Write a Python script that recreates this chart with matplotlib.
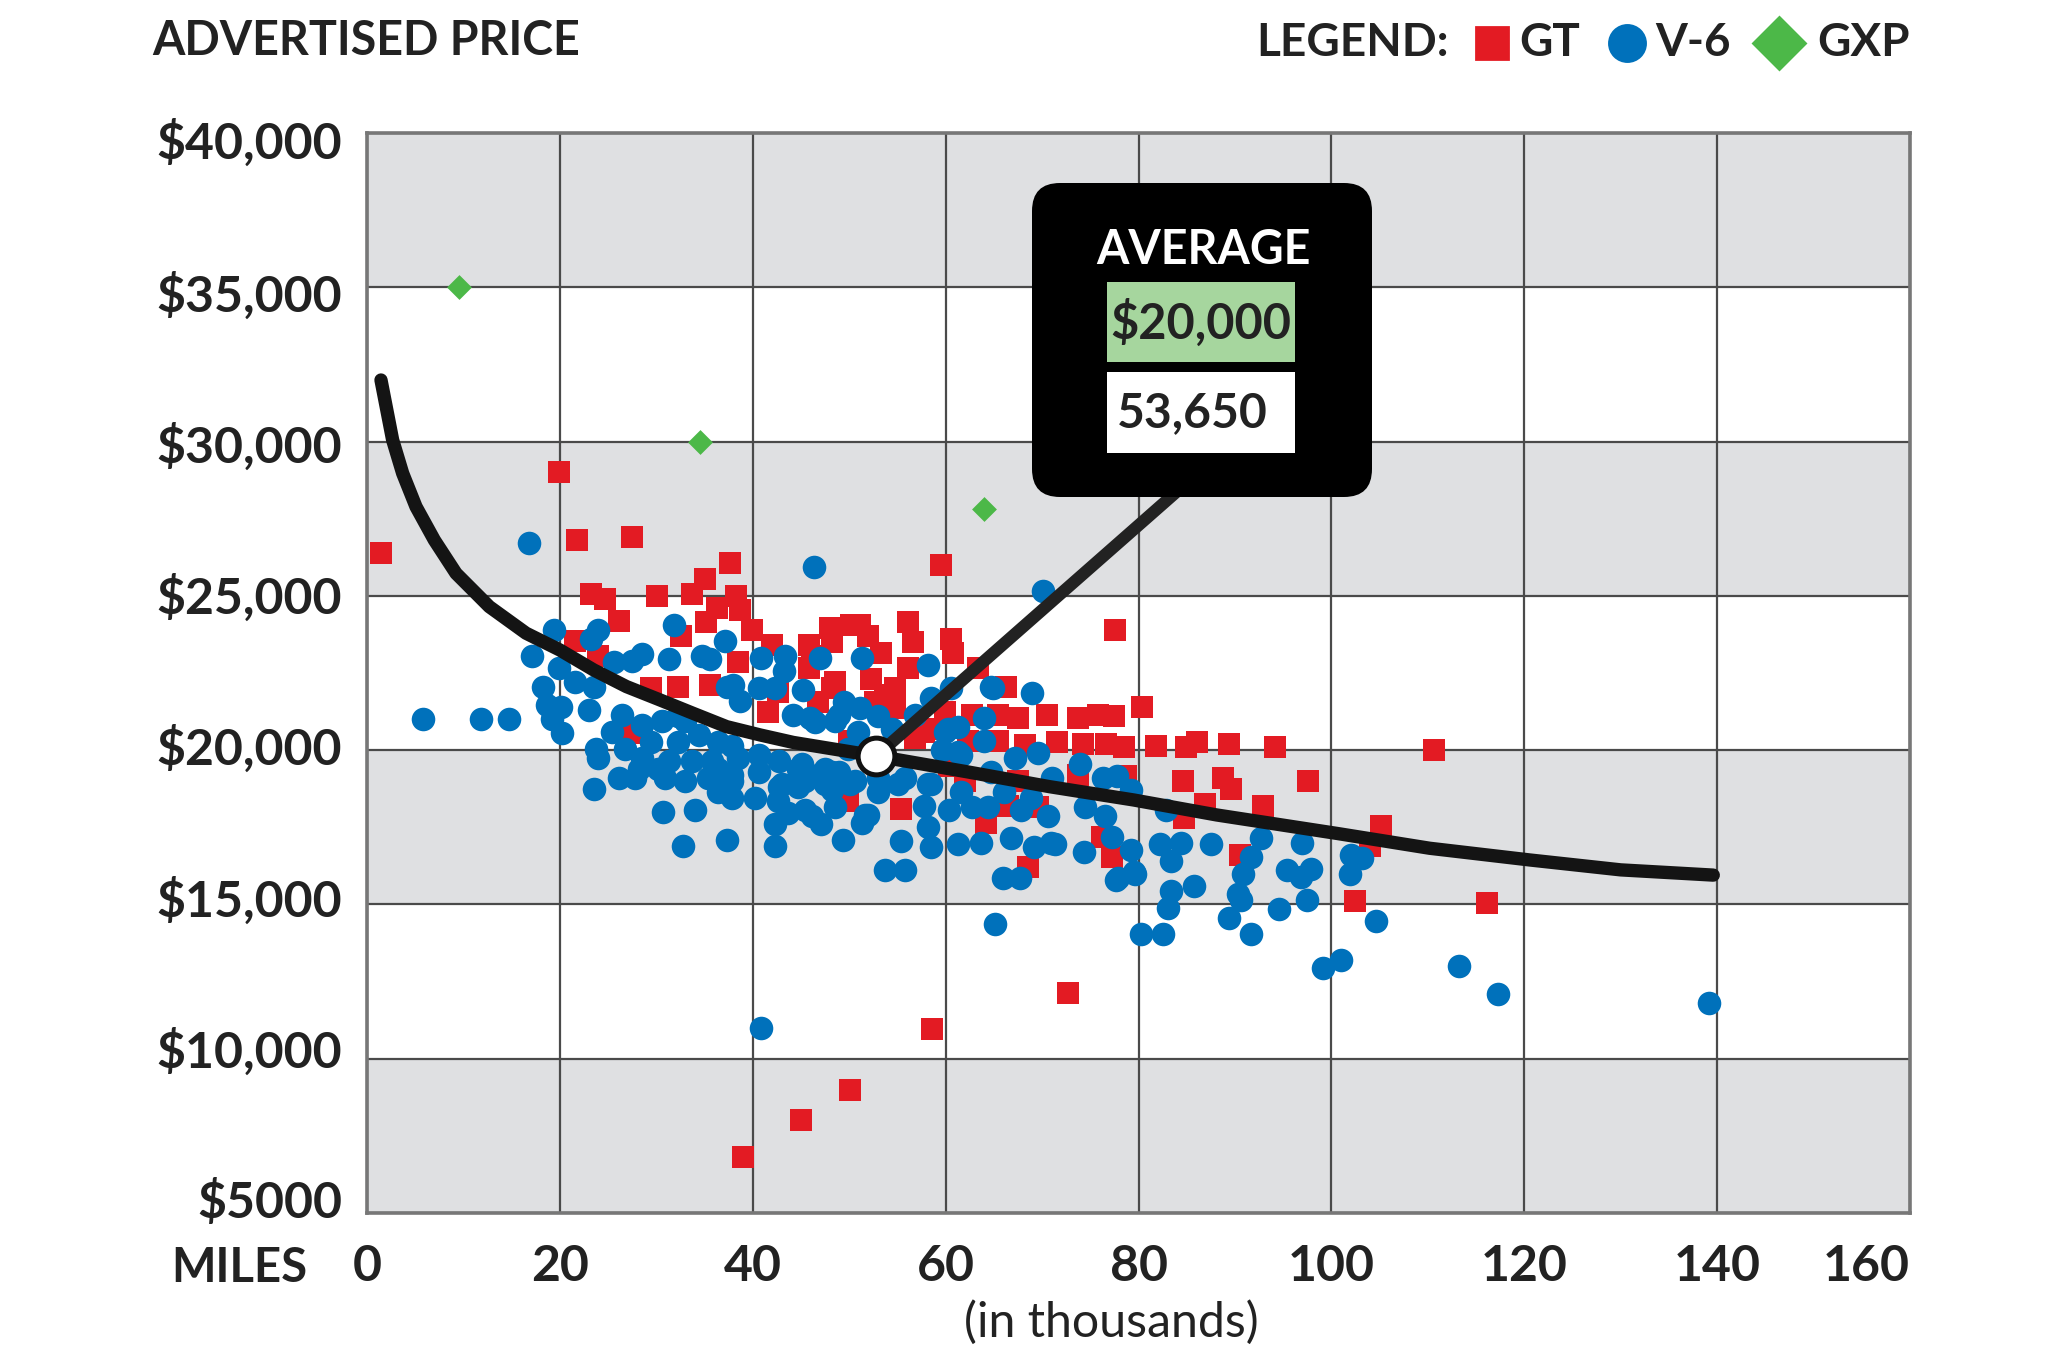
import matplotlib
matplotlib.use("Agg")
import matplotlib.pyplot as plt
import matplotlib.transforms as mtransforms
from matplotlib.lines import Line2D
from matplotlib.patches import FancyBboxPatch, Rectangle

plt.rcParams["font.family"] = ["Lato", "DejaVu Sans"]

DPI = 200
W, H = 2048, 1360

# GT (red squares): miles in thousands, price in dollars
gt_miles = [
    1.4, 19.9, 21.8, 27.5, 37.6, 35.1, 30.1, 33.7, 23.2, 24.7, 38.3, 38.7, 36.3, 26.1,
    32.6, 35.2, 39.9, 21.6, 24.0, 29.5, 32.3, 35.6, 38.5, 42.0, 45.8, 48.0, 50.2, 48.2,
    41.6, 42.6, 45.8, 27.5, 49.9, 50.0,
    59.5, 77.6, 80.4, 51.1, 52.0, 56.1, 56.6, 60.6, 60.8, 48.2, 46.1, 48.5, 52.3, 54.7,
    53.3, 56.1, 63.4, 66.3, 62.7, 65.4, 67.5, 70.5, 73.7, 75.8, 77.5, 46.8, 52.7, 54.7,
    56.8, 58.9, 65.4, 71.6, 74.2, 76.6, 78.5, 81.8, 84.9, 86.1, 89.4, 94.2, 78.7, 84.6,
    88.8, 89.6, 92.9, 84.7, 55.4, 64.2, 68.5, 77.3, 76.2, 67.5, 62.0, 60.3, 69.6, 90.5,
    62.3, 68.2, 53.7, 57.8, 59.9, 73.7, 66.5,
    110.6, 97.6, 86.9, 105.1, 104.0, 102.4, 116.1, 72.7,
    58.6, 50.1, 45.0, 39.0,
]
gt_price = [
    26400, 29000, 26800, 26900, 26050, 25550, 25000, 25050, 25050, 24900, 25000, 24550, 24600, 24200,
    23700, 24150, 23900, 23550, 23050, 22000, 22050, 22100, 22850, 23400, 23400, 23950, 24050, 22000,
    21250, 21900, 22650, 20550, 18350, 20300,
    26000, 23900, 21400, 24050, 23700, 24150, 23500, 23600, 23150, 23500, 23050, 22200, 22300, 22000,
    23150, 22650, 22650, 22050, 21150, 21150, 21050, 21150, 21050, 21150, 21100, 21550, 21550, 21350,
    20400, 20700, 20300, 20250, 20200, 20200, 20100, 20150, 20100, 20250, 20200, 20100, 19150, 19000,
    19100, 18750, 18200, 17800, 18080, 17650, 16200, 16530, 17200, 19000, 19000, 19500, 18150, 16600,
    20300, 20170, 21780, 20600, 21240, 19200, 18190,
    20000, 19000, 18250, 17550, 16900, 15100, 15050, 12130,
    10950, 8970, 8000, 6800,
]

# V-6 (blue circles)
v6_miles = [
    5.8, 11.8, 14.7, 16.8, 40.9,
    19.4, 24.0, 23.2, 17.1, 19.9, 18.3, 21.6, 23.5, 18.7, 20.1, 20.2, 19.2, 23.0, 25.6,
    28.5, 27.5, 31.3, 31.8, 34.7, 35.6, 37.1, 40.9, 43.3, 43.2, 37.3, 38.7, 40.6, 42.3,
    38.0, 44.2, 26.4, 25.4, 28.5, 30.6, 32.3, 33.0, 23.7, 26.8, 29.5, 32.3, 34.4, 36.4,
    37.8, 33.7, 35.8, 38.5, 40.6, 42.7, 30.2, 28.2, 26.1, 24.0, 27.8, 30.9, 33.0, 35.4,
    37.8, 37.8, 40.2, 43.0, 23.5, 30.7, 34.0, 32.8, 37.3, 42.3, 42.3, 43.7, 42.6, 36.4,
    37.8, 40.6, 44.7, 28.5, 31.3, 36.4, 42.7, 44.7,
    46.4, 47.0, 45.2, 45.9, 48.9, 49.5, 46.5, 48.5, 51.1, 50.9, 49.9, 45.1, 47.5, 46.8,
    48.9, 45.4, 48.2, 50.1, 47.5, 45.4, 47.1, 48.5, 49.4, 46.1, 51.6, 51.3, 51.3, 48.2,
    50.6, 52.0,
    70.1, 65.1, 80.3, 82.5, 83.1, 83.4, 85.8, 84.4, 82.2, 83.4, 77.3, 79.2, 77.9, 79.5,
    74.4, 71.3, 53.0, 53.0, 58.2, 64.7, 69.0, 60.6, 58.5, 64.9, 56.8, 54.4, 64.0, 59.9,
    61.3, 64.0, 59.6, 61.6, 67.2, 69.6, 73.9, 76.3, 77.8, 79.2, 64.7, 71.0, 53.3, 55.8,
    58.5, 61.6, 66.1, 68.9, 57.8, 60.3, 62.7, 64.4, 67.8, 70.6, 74.5, 76.5, 82.8, 58.2,
    55.4, 58.5, 61.3, 63.7, 66.8, 69.2, 70.9, 53.7, 55.8, 65.9, 67.7, 77.7, 79.6, 60.2,
    61.3, 55.1, 58.2, 53.0,
    87.5, 92.7, 91.7, 90.8, 95.4, 97.9, 97.0, 102.0, 103.2, 101.9, 90.6, 89.4, 94.6, 97.5,
    91.7, 99.1, 101.0, 104.6, 113.2, 117.3, 139.2, 90.3, 96.8,
]
v6_price = [
    21000, 21000, 21000, 26700, 11000,
    23900, 23900, 23600, 23050, 22650, 22050, 22200, 22050, 21450, 21400, 20550, 21000, 21300, 22850,
    23100, 22900, 22950, 24050, 23050, 22950, 23550, 23000, 23050, 22550, 22050, 21600, 22000, 22000,
    22100, 21150, 21150, 20600, 20800, 20950, 21100, 20950, 20050, 20050, 20250, 20250, 20500, 20250,
    20150, 19650, 19650, 19750, 19850, 19650, 19400, 19400, 19100, 19750, 19100, 19100, 19000, 19100,
    19000, 18450, 18450, 18900, 18750, 18000, 18050, 16900, 17100, 16900, 17600, 17950, 18350, 19400,
    19200, 19300, 19400, 19750, 19650, 18650, 18800, 18800,
    25950, 23000, 21950, 21050, 21150, 21550, 20900, 20950, 21350, 20600, 20050, 19550, 19400, 19200,
    19300, 19000, 18700, 18900, 18900, 18050, 17600, 18150, 17100, 17850, 17900, 17650, 23000, 19300,
    19000, 17900,
    25150, 14350, 14050, 14050, 14900, 15450, 15600, 17000, 16950, 16400, 17200, 16750, 15850, 16050,
    16700, 16950, 21100, 18650, 22750, 22050, 21850, 22000, 21700, 22000, 21150, 20700, 21050, 20600,
    20750, 20300, 20000, 19850, 19750, 19900, 19550, 19100, 19150, 18700, 19300, 19100, 18900, 19100,
    18900, 18650, 18650, 18450, 18200, 18050, 18150, 18150, 18050, 17850, 18150, 17850, 18050, 17500,
    17050, 16850, 16950, 17000, 17150, 16850, 17000, 16100, 16100, 15850, 15850, 15800, 16000, 20700,
    19950, 18900, 18900, 19100,
    16950, 17150, 16550, 16000, 16100, 16150, 17000, 16600, 16500, 16000, 15150, 14550, 14850, 15150,
    14050, 12950, 13200, 14450, 13000, 12100, 11800, 15350, 15900,
]

# GXP (green diamonds)
gxp_miles = [9.5, 34.5, 64.0]
gxp_price = [35000, 30000, 27800]

# average price curve
curve_miles = [1.45, 2.66, 3.70, 5.08, 6.98, 9.23, 12.68, 16.49, 20.0, 23.5, 26.9, 30.4, 33.8,
               37.3, 40.8, 44.2, 52.8, 62.2, 70.8, 79.5, 88.1, 100.6, 110.2, 120.6, 130.0, 139.6]
curve_price = [31995, 30050, 28970, 27890, 26810, 25730, 24650, 23790, 23245, 22600, 22060, 21625, 21195,
               20760, 20490, 20250, 19810, 19300, 18815, 18385, 17900, 17300, 16820, 16440, 16120, 15950]

avg_point = (52.8, 19810)
avg_price_label = "$20,000"
avg_miles_label = "53,650"

x_ticks = [0, 20, 40, 60, 80, 100, 120, 140, 160]
y_ticks = [5000, 10000, 15000, 20000, 25000, 30000, 35000, 40000]
y_labels = ["$5000", "$10,000", "$15,000", "$20,000", "$25,000", "$30,000", "$35,000", "$40,000"]
gray_bands = [(5000, 10000), (15000, 20000), (25000, 30000), (35000, 40000)]

RED = "#e31b23"
BLUE = "#0071bb"
GREEN = "#4cb848"
BAND = "#dfe0e2"
INK = "#222222"


def fx(px):
    return px / W


def fy(py):
    return 1 - py / H


def inch(px, py):
    return px / DPI, (H - py) / DPI


fig = plt.figure(figsize=(W / DPI, H / DPI), dpi=DPI)
ax = fig.add_axes([fx(367), fy(1213), fx(1910) - fx(367), fy(133) - fy(1213)])
ax.set_xlim(0, 160)
ax.set_ylim(5000, 40000)

for lo, hi in gray_bands:
    ax.axhspan(lo, hi, color=BAND, lw=0, zorder=0.2)
for y in y_ticks:
    ax.axhline(y, color="#4a4a4a", lw=0.8, zorder=1)
for x in x_ticks:
    ax.axvline(x, color="#4a4a4a", lw=0.8, zorder=1)

ax.scatter(gt_miles, gt_price, marker="s", s=68, color=RED, lw=0, zorder=3)
ax.scatter(v6_miles, v6_price, marker="o", s=72, color=BLUE, lw=0, zorder=4)
ax.scatter(gxp_miles, gxp_price, marker="D", s=40, color=GREEN, lw=0, zorder=5)
ax.plot(curve_miles, curve_price, color="#141414", lw=4.8, solid_capstyle="round",
        solid_joinstyle="round", zorder=6)

# leader from the average point to the callout box
ax.annotate("", xy=avg_point, xycoords="data", xytext=inch(1190, 480),
            textcoords=fig.dpi_scale_trans,
            arrowprops=dict(arrowstyle="-", lw=4.4, color=INK, shrinkA=0, shrinkB=0),
            zorder=7)
ax.scatter([avg_point[0]], [avg_point[1]], s=175, facecolor="white", edgecolor="#111111",
           lw=1.8, zorder=9)

for side in ax.spines.values():
    side.set_color("#777777")
    side.set_linewidth(1.3)

ax.set_xticks(x_ticks)
ax.set_xticklabels([str(t) for t in x_ticks])
ax.set_yticks(y_ticks)
ax.set_yticklabels(y_labels)
ax.tick_params(length=0, labelsize=18, labelcolor=INK)
ax.tick_params(axis="y", pad=9)
ax.tick_params(axis="x", pad=11)
for lab in ax.get_xticklabels() + ax.get_yticklabels():
    lab.set_fontweight("bold")
ax.get_xticklabels()[-1].set_horizontalalignment("right")

# the printed price labels sit a little inside the gridline span (offsets in pixels)
y_label_shift_px = [14, 11, 8, 5, 2, -1, -4, -6]
for lab, dy in zip(ax.get_yticklabels(), y_label_shift_px):
    lab.set_transform(lab.get_transform() +
                      mtransforms.ScaledTranslation(0, dy / DPI, fig.dpi_scale_trans))

# callout box
bx0, by0 = inch(1032, 497)
bx1, by1 = inch(1372, 183)
fig.add_artist(FancyBboxPatch((bx0, by0), bx1 - bx0, by1 - by0,
                              boxstyle="round,pad=0,rounding_size=0.14",
                              transform=fig.dpi_scale_trans, facecolor="black",
                              edgecolor="none", zorder=10))
gx0, gy0 = inch(1107, 362)
gx1, gy1 = inch(1295, 282)
fig.add_artist(Rectangle((gx0, gy0), gx1 - gx0, gy1 - gy0, transform=fig.dpi_scale_trans,
                         facecolor="#a6d69e", edgecolor="none", zorder=11))
wx0, wy0 = inch(1107, 453)
wx1, wy1 = inch(1295, 372)
fig.add_artist(Rectangle((wx0, wy0), wx1 - wx0, wy1 - wy0, transform=fig.dpi_scale_trans,
                         facecolor="white", edgecolor="none", zorder=11))
fig.text(fx(1203), fy(250), "AVERAGE", color="white", fontsize=16.8, fontweight="bold",
         ha="center", va="center", zorder=12)
fig.text(fx(1201), fy(323), avg_price_label, color=INK, fontsize=17.5, fontweight="bold",
         ha="center", va="center", zorder=12)
fig.text(fx(1117), fy(413), avg_miles_label, color=INK, fontsize=17.3, fontweight="bold",
         ha="left", va="center", zorder=12)

# headings
fig.text(fx(152), fy(41), "ADVERTISED PRICE", color=INK, fontsize=16.8, fontweight="bold",
         ha="left", va="center")
fig.text(fx(307), fy(1268), "MILES", color=INK, fontsize=17, fontweight="bold",
         ha="right", va="center")
fig.text(fx(1111), fy(1322), "(in thousands)", color=INK, fontsize=17.4,
         ha="center", va="center")

# legend row
fig.text(fx(1256), fy(43), "LEGEND:", color=INK, fontsize=16.5, fontweight="bold",
         ha="left", va="center")
fig.add_artist(Line2D([fx(1492)], [fy(43)], marker="s", ms=11.5, color=RED, lw=0,
                      transform=fig.transFigure))
fig.text(fx(1519), fy(43), "GT", color=INK, fontsize=16.5, fontweight="bold", ha="left", va="center")
fig.add_artist(Line2D([fx(1627)], [fy(43)], marker="o", ms=13, color=BLUE, lw=0,
                      transform=fig.transFigure))
fig.text(fx(1655), fy(43), "V-6", color=INK, fontsize=16.5, fontweight="bold", ha="left", va="center")
fig.add_artist(Line2D([fx(1779)], [fy(43)], marker="D", ms=13, color=GREEN, lw=0,
                      transform=fig.transFigure))
fig.text(fx(1817), fy(43), "GXP", color=INK, fontsize=16.5, fontweight="bold", ha="left", va="center")

fig.savefig("out.png", dpi=DPI)
